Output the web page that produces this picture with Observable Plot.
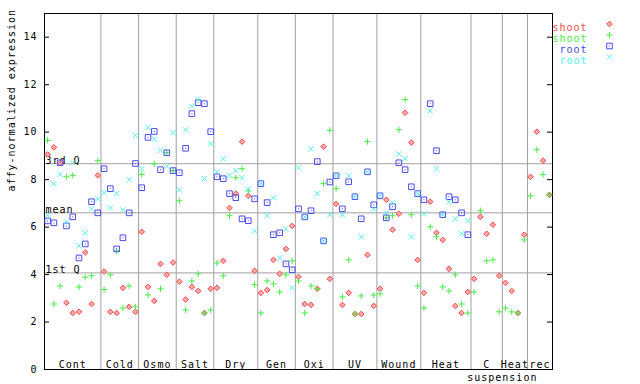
<!DOCTYPE html>
<html><head><meta charset="utf-8">
<script src="https://cdn.jsdelivr.net/npm/d3@7"></script>
<script src="https://cdn.jsdelivr.net/npm/@observablehq/plot@0.6"></script>
<style>
html,body{margin:0;padding:0;background:#fff;}
#chart svg text{letter-spacing:1px;}
</style>
</head><body><div id="chart"></div>
<script>
// ---- data ----
const groupLabels = ["Cont","Cold","Osmo","Salt","Dry","Gen","Oxi","UV","Wound","Heat","C","Heat","rec"];
const groupSizes  = [9, 6, 6, 6, 7, 6, 6, 7, 7, 8, 5, 4, 4];
const subLabel = "suspension"; // second line under the "C" group, at its right boundary
const shootRed = [
  9.06, 9.36, 8.70, 2.81, 2.38, 2.43, 4.93, 2.76, 8.18,
  4.13, 2.43, 2.38, 3.44, 2.64, 2.43,
  5.80, 3.48, 2.89, 4.45, 3.99, 4.51,
  3.70, 2.95, 3.48, 3.31, 2.38, 3.40,
  3.44, 4.58, 6.81, 7.41, 9.60, 7.32, 4.16,
  3.23, 3.35, 4.62, 4.03, 5.08, 6.05,
  3.90, 2.76, 2.72, 3.40, 9.39, 3.82,
  6.98, 2.72, 3.23, 2.34, 2.34, 4.83, 2.68,
  3.40, 7.15, 5.89, 6.56, 10.82, 9.56, 4.62,
  3.23, 7.07, 5.76, 5.46, 4.24, 2.68, 2.38, 3.27,
  3.82, 6.43, 5.72, 6.10, 3.95,
  3.65, 3.31, 2.38, 5.68,
  8.12, 10.02, 8.80, 7.36
];
const shootGreen = [
  9.65, 2.76, 3.52, 8.12, 8.18, 3.48, 3.89, 3.95, 8.80,
  3.37, 3.99, 5.00, 2.59, 3.52, 2.64,
  8.22, 3.14, 8.67, 3.40, 9.13, 8.38,
  7.11, 2.51, 3.73, 4.03, 2.38, 2.51,
  4.49, 3.95, 6.48, 8.08, 8.46, 7.53, 3.57,
  2.38, 3.73, 3.61, 3.27, 3.99, 4.58,
  3.73, 2.38, 3.52, 3.40, 7.83, 10.08,
  7.62, 3.06, 4.62, 2.34, 3.10, 9.60, 3.14,
  3.19, 6.39, 6.48, 10.10, 11.37, 6.52, 3.52,
  2.59, 6.01, 5.59, 3.48, 3.31, 3.99, 2.76, 2.38,
  3.27, 6.69, 4.58, 4.62, 2.43,
  2.59, 2.43, 2.38, 5.46,
  7.32, 9.26, 8.21, 7.36
];
const rootBlue = [
  6.26, 6.18, 8.71, 6.05, 6.43, 4.70, 5.29, 7.07, 6.60,
  8.46, 7.62, 5.08, 5.55, 6.60, 8.68,
  7.66, 9.78, 10.03, 8.42, 9.13, 8.38,
  8.29, 9.32, 10.78, 11.24, 11.20, 10.02,
  8.12, 8.04, 7.41, 7.24, 6.35, 6.27, 7.19,
  7.83, 7.03, 5.68, 5.76, 4.45, 4.20,
  6.77, 6.43, 6.69, 8.76, 5.42, 7.90,
  8.16, 6.77, 7.91, 7.28, 6.35, 8.33, 6.94,
  7.32, 6.39, 6.86, 8.71, 8.42, 7.70, 7.41,
  7.15, 11.20, 9.22, 6.52, 7.28, 7.15, 6.60, 5.68
];
const rootCyan = [
  6.50, 7.83, 8.22, 6.22, 8.71, 5.21, 5.76, 6.77, 7.19,
  7.45, 6.81, 7.41, 6.73, 8.00, 9.86,
  8.46, 10.20, 9.70, 9.23, 8.56, 9.98,
  7.57, 10.10, 11.09, 11.38, 8.05, 9.51,
  8.33, 8.88, 8.18, 8.38, 8.08, 7.60, 5.84,
  7.83, 6.48, 7.24, 4.70, 5.93, 3.44,
  8.50, 6.43, 9.30, 7.41, 5.42, 6.52,
  8.16, 6.52, 8.16, 7.28, 5.59, 8.33, 6.77,
  7.32, 6.60, 7.03, 9.09, 8.88, 5.59, 7.41,
  6.56, 10.90, 8.46, 6.52, 7.07, 6.35, 5.72, 6.27
];
const quartileNames  = ["3rd Q", "mean", "1st Q"];
const quartileValues = [8.67, 6.60, 4.07];
const yTicks = [0, 2, 4, 6, 8, 10, 12, 14];
const legendNames = ["shoot", "shoot", "root", "root"];
const yLabel = "affy-normalized expression";

// ---- symbols ----
const sym = (fn) => ({draw(ctx, size) { fn(ctx, Math.sqrt(size / Math.PI)); }});
const diamond = sym((c, r) => { c.moveTo(0, -r); c.lineTo(r, 0); c.lineTo(0, r); c.lineTo(-r, 0); c.closePath(); });
const plus = sym((c, r) => { c.moveTo(-r, 0); c.lineTo(r, 0); c.moveTo(0, -r); c.lineTo(0, r); });
const square = sym((c, r) => { c.rect(-r, -r, 2 * r, 2 * r); c.moveTo(-0.5, 0); c.lineTo(0.5, 0); });
const times = sym((c, r) => { c.moveTo(-r, -r); c.lineTo(r, r); c.moveTo(-r, r); c.lineTo(r, -r); });

const series = [
  {values: shootRed,   color: "#f54848", fill: "#ffa8a8", symbol: diamond, r: 2.8},
  {values: shootGreen, color: "#44ee44", fill: "none",    symbol: plus,    r: 3.1},
  {values: rootBlue,   color: "#4a4aee", fill: "none",    symbol: square,  r: 2.8},
  {values: rootCyan,   color: "#4cf0f0", fill: "none",    symbol: times,   r: 2.6}
];

// ---- derived ----
const groups = [];
let start = 0;
groupLabels.forEach((label, k) => {
  const n = groupSizes[k];
  groups.push({label, start, end: start + n - 1, center: start + (n - 1) / 2});
  start += n;
});
const nSlots = start;
const boundaries = groups.slice(1).map(g => g.start - 0.5);
const cGroup = groups[10];
const subLabels = [{text: subLabel, x: cGroup.end + 0.5}];
const quartiles = quartileNames.map((name, i) => ({name, value: quartileValues[i]}));

const font = "DejaVu Sans Mono, monospace";
const txt = {fontFamily: font, fontSize: 10, fill: "#000"};

const marks = [
  Plot.ruleY(quartiles, {y: "value", stroke: "#a0a0a0", strokeWidth: 1}),
  Plot.ruleX(boundaries, {x: d => d, stroke: "#a0a0a0", strokeWidth: 1}),
  Plot.text(quartiles, {y: "value", text: "name", frameAnchor: "left", textAnchor: "start", lineAnchor: "bottom", dx: 1, dy: 0, ...txt}),
  Plot.text(groups, {x: "center", y: () => 0, text: "label", lineAnchor: "bottom", dy: -2, ...txt}),
  Plot.text(subLabels, {x: "x", y: () => 0, text: "text", lineAnchor: "bottom", dy: 11, ...txt}),
  Plot.ruleY(yTicks, {y: d => d, insetRight: 503, stroke: "#000", strokeWidth: 1}),
  Plot.ruleY(yTicks, {y: d => d, insetLeft: 503, stroke: "#000", strokeWidth: 1}),
  Plot.text(yTicks, {y: d => d, text: d => String(d), frameAnchor: "left", textAnchor: "end", dx: -7, ...txt}),
  Plot.text([yLabel], {frameAnchor: "left", rotate: -90, dx: -33, text: d => d, ...txt}),
  Plot.frame({stroke: "#000", strokeWidth: 1})
];

series.forEach((s) => {
  const pts = s.values.map((v, i) => ({i, v}));
  marks.push(Plot.dot(pts, {x: "i", y: "v", symbol: s.symbol, r: s.r, stroke: s.color, fill: s.fill, strokeWidth: 1}));
});

series.forEach((s, k) => {
  marks.push(Plot.text([legendNames[k]], {frameAnchor: "top-right", dx: 35, dy: 10.5 + 11 * k, textAnchor: "end", text: d => d, fontFamily: font, fontSize: 10, fill: s.color}));
  marks.push(Plot.dot([0], {frameAnchor: "top-right", dx: 57, dy: 10.5 + 11 * k, symbol: s.symbol, r: s.r, stroke: s.color, fill: s.fill, strokeWidth: 1}));
});

const chart = Plot.plot({
  width: 640, height: 384,
  marginLeft: 44, marginRight: 88, marginTop: 13, marginBottom: 15,
  x: {domain: [-0.5, nSlots - 0.5], axis: null},
  y: {domain: [0, 15], axis: null},
  style: {background: "#fff", color: "#000", fontFamily: font, fontSize: "10px", overflow: "visible"},
  marks
});
document.getElementById("chart").appendChild(chart);
</script>
</body></html>
